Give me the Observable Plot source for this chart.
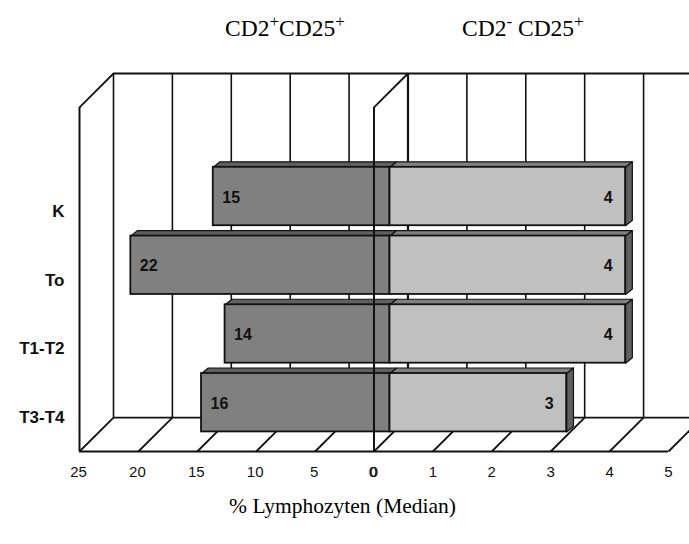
<!DOCTYPE html>
<html><head><meta charset="utf-8">
<script src="https://cdn.jsdelivr.net/npm/d3@7"></script>
<script src="https://cdn.jsdelivr.net/npm/@observablehq/plot@0.6"></script>
<style>
html,body{margin:0;padding:0;background:#fff;overflow:hidden}
#wrap{position:relative;width:689px;height:544px}
#wrap svg{position:absolute;left:0;top:0}
.t{position:absolute;z-index:2;top:14px;font:23.5px "Liberation Serif",serif;color:#000;white-space:nowrap;line-height:28px}
.t sup{font-size:17px;line-height:0;vertical-align:baseline;position:relative;top:-9px}
</style></head>
<body>
<div id="wrap">
<div class="t" style="left:225px">CD2<sup>+</sup>CD25<sup>+</sup></div>
<div class="t" style="left:462px">CD2<sup>-</sup> CD25<sup>+</sup></div>
</div>
<script>
const categories = ["K", "To", "T1-T2", "T3-T4"];
const leftValues = [15, 22, 14, 16];
const rightValues = [4, 4, 4, 3];
const leftTicks = [25, 20, 15, 10, 5, 0];
const rightTicks = [0, 1, 2, 3, 4, 5];

// one axis unit on the left side is 5 %, on the right side 1 %
const leftX = v => -v / 5;
const rightX = v => v;

// chart geometry in scale units
const topRow = -1.79, floorRow = 3.71;
const depthX = 0.577, depthY = 0.494;     // wall depth
const barHalf = 0.425;
const faceX = 0.115, faceY = 0.08;        // bar depth

const bars = categories.flatMap((c, i) => [
  {c, i, side: "L", v: leftValues[i], x1: leftX(leftValues[i]), x2: 0},
  {c, i, side: "R", v: rightValues[i], x1: 0, x2: rightX(rightValues[i])}
]);
const face = (id, pts) => pts.map(([x, y]) => ({id, x, y}));
const tops = side => bars.filter(b => b.side === side).flatMap(b => face(b.c, [
  [b.x1, b.i - barHalf], [b.x2, b.i - barHalf],
  [b.x2 + faceX, b.i - barHalf - faceY], [b.x1 + faceX, b.i - barHalf - faceY]
]));
const sides = bars.filter(b => b.side === "R").flatMap(b => face(b.c, [
  [b.x2, b.i - barHalf], [b.x2 + faceX, b.i - barHalf - faceY],
  [b.x2 + faceX, b.i + barHalf - faceY], [b.x2, b.i + barHalf]
]));
const gridX = d3.range(-5, 6);
const ink = "#111";
const barShift = {dx: 16};

const chart = Plot.plot({
  width: 689, height: 544,
  marginLeft: 79, marginRight: 0, marginTop: 73, marginBottom: 93,
  x: {domain: [-5, 5.357], axis: null},
  y: {domain: [topRow, floorRow], reverse: true, axis: null},
  style: {background: "#fff", overflow: "hidden"},
  marks: [
    // back wall
    Plot.ruleX(gridX, {x: d => d, y1: topRow, y2: floorRow - depthY, dx: 34, stroke: ink, strokeWidth: d => d === 0 ? 2.2 : 1.6}),
    Plot.ruleY([topRow, floorRow - depthY], {y: d => d, x1: -5 + depthX, x2: 5.357, stroke: ink, strokeWidth: 1.8}),
    // floor diagonals
    Plot.link(gridX, {x1: d => d, x2: d => d + depthX, y1: floorRow, y2: floorRow - depthY, stroke: ink, strokeWidth: 1.8}),
    // side walls
    Plot.link([-5, 0], {x1: d => d, x2: d => d + depthX, y1: topRow + depthY, y2: topRow, stroke: ink, strokeWidth: 1.8}),
    Plot.ruleX([-5], {x: d => d, y1: topRow + depthY, y2: floorRow, stroke: ink, strokeWidth: 2}),
    // bars
    Plot.line(tops("L"), {x: "x", y: "y", z: "id", fill: "#606060", stroke: ink, strokeWidth: 1.2, curve: "linear-closed", ...barShift}),
    Plot.line(tops("R"), {x: "x", y: "y", z: "id", fill: "#808080", stroke: ink, strokeWidth: 1.2, curve: "linear-closed", ...barShift}),
    Plot.line(sides, {x: "x", y: "y", z: "id", fill: "#606060", stroke: ink, strokeWidth: 1.2, curve: "linear-closed", ...barShift}),
    Plot.rect(bars, {x1: "x1", x2: "x2", y1: d => d.i - barHalf, y2: d => d.i + barHalf,
      fill: d => d.side === "L" ? "#808080" : "#c0c0c0", stroke: ink, strokeWidth: 1.8, ...barShift}),
    // front lines
    Plot.ruleX([0], {x: d => d, y1: topRow + depthY, y2: floorRow, stroke: ink, strokeWidth: 2}),
    Plot.ruleY([floorRow], {y: d => d, x1: -5, x2: 5, stroke: ink, strokeWidth: 2}),
    // bar values
    Plot.text(bars.filter(b => b.side === "L"), {x: "x1", y: "i", text: "v", dx: 25, dy: 1, textAnchor: "start",
      fontFamily: "Liberation Sans", fontWeight: "bold", fontSize: 16, fill: "#111"}),
    Plot.text(bars.filter(b => b.side === "R"), {x: "x2", y: "i", text: "v", dx: 3, dy: 1, textAnchor: "end",
      fontFamily: "Liberation Sans", fontWeight: "bold", fontSize: 16, fill: "#111"}),
    // category labels
    Plot.text(categories, {x: -5, y: (d, i) => i, text: d => d, dx: -15, dy: 15, textAnchor: "end",
      fontFamily: "Liberation Sans", fontWeight: "bold", fontSize: 17, letterSpacing: 2, fill: "#111"}),
    // tick labels
    Plot.text(leftTicks, {x: leftX, y: floorRow, text: d => d, dx: -1, dy: 21,
      fontFamily: "Liberation Sans", fontSize: 15, fill: "#111"}),
    Plot.text(rightTicks, {x: rightX, y: floorRow, text: d => d, dx: 0, dy: 21,
      fontFamily: "Liberation Sans", fontSize: 15, fill: "#111"}),
    // axis title
    Plot.text(["% Lymphozyten (Median)"], {x: -0.5, y: floorRow, text: d => d, dx: -2, dy: 55,
      fontFamily: "Liberation Serif", fontSize: 21.5, fill: "#000"})
  ]
});
document.getElementById("wrap").appendChild(chart);
</script>
</body></html>
